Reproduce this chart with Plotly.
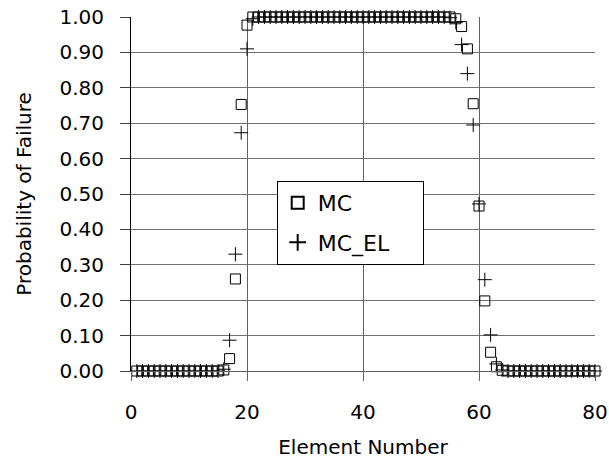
import plotly.graph_objects as go

elements = [1, 2, 3, 4, 5, 6, 7, 8, 9, 10, 11, 12, 13, 14, 15, 16, 17, 18, 19, 20,
            21, 22, 23, 24, 25, 26, 27, 28, 29, 30, 31, 32, 33, 34, 35, 36, 37, 38, 39, 40,
            41, 42, 43, 44, 45, 46, 47, 48, 49, 50, 51, 52, 53, 54, 55, 56, 57, 58, 59, 60,
            61, 62, 63, 64, 65, 66, 67, 68, 69, 70, 71, 72, 73, 74, 75, 76, 77, 78, 79, 80]

mc = ([0.0] * 15 +
      [0.003, 0.035, 0.26, 0.753, 0.977] +
      [1.0] * 35 +
      [0.995, 0.973, 0.91, 0.755, 0.466, 0.198, 0.053, 0.012, 0.002] +
      [0.0] * 16)

mc_el = ([0.0] * 15 +
         [0.005, 0.087, 0.33, 0.673, 0.91, 0.995] +
         [1.0] * 33 +
         [0.998, 0.985, 0.922, 0.84, 0.695, 0.472, 0.258, 0.102, 0.02, 0.003] +
         [0.0] * 16)

series_names = ["MC", "MC_EL"]
x_ticks = [0, 20, 40, 60, 80]

font = "DejaVu Sans"
FS = 20
PAD = "\u00a0" * 4  # widen the legend box to match the reference

fig = go.Figure()
fig.add_trace(go.Scatter(
    x=elements, y=mc, mode="markers", name=series_names[0], legendgroup="a",
    marker=dict(symbol="square-open", size=10, color="black", line=dict(width=1, color="black")),
    cliponaxis=False,
))
fig.add_trace(go.Scatter(
    x=elements, y=mc_el, mode="markers", name=series_names[1] + PAD, legendgroup="b",
    marker=dict(symbol="cross-thin-open", size=10, color="black", line=dict(width=1, color="black")),
    cliponaxis=False,
))

fig.update_layout(
    width=609, height=459,
    margin=dict(l=131, r=14, t=17, b=88),
    paper_bgcolor="white", plot_bgcolor="white",
    font=dict(family=font, size=FS, color="black"),
    showlegend=True,
    legend=dict(
        x=0.314, y=0.537, xanchor="left", yanchor="top",
        bgcolor="white", bordercolor="black", borderwidth=1,
        font=dict(family=font, size=22, color="black"),
        itemsizing="constant", traceorder="grouped", tracegroupgap=8,
    ),
)

fig.update_xaxes(
    range=[0, 80], tickvals=x_ticks, ticktext=[str(v) for v in x_ticks],
    tickfont=dict(family=font, size=FS, color="black"),
    showgrid=True, gridcolor="#606060", gridwidth=1,
    showline=True, linecolor="#606060", linewidth=1,
    ticks="outside", ticklen=9, tickcolor="#606060",
    ticklabelstandoff=14,
    zeroline=False, automargin=False,
    title=dict(text="Element Number", font=dict(family=font, size=FS, color="black"), standoff=17),
)
fig.update_yaxes(
    range=[0, 1], dtick=0.1, tick0=0, tickformat=".2f",
    tickfont=dict(family=font, size=FS, color="black"),
    showgrid=True, gridcolor="#707070", gridwidth=1,
    showline=True, linecolor="black", linewidth=1,
    ticks="outside", ticklen=10, tickcolor="#404040",
    ticklabelstandoff=12,
    zeroline=False, automargin=False,
    title=dict(text="Probability of Failure", font=dict(family=font, size=FS, color="black"), standoff=22),
)

fig.write_html("out.html")
